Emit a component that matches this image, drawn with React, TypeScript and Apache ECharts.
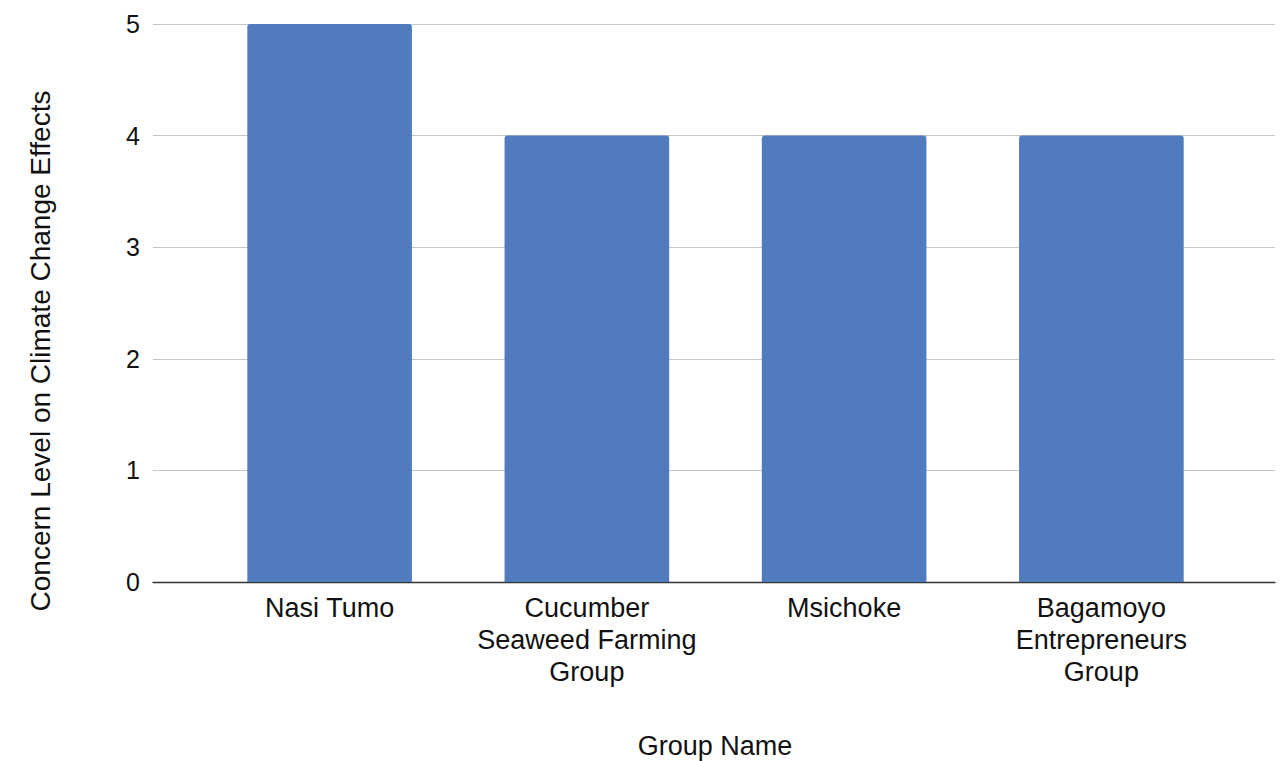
import React, { useEffect, useRef } from "react";
import * as echarts from "echarts";

const categories = [
  "Nasi Tumo",
  "Cucumber\nSeaweed Farming\nGroup",
  "Msichoke",
  "Bagamoyo\nEntrepreneurs\nGroup",
];
const concernValues = [5, 4, 4, 4];
const yTicks = [0, 1, 2, 3, 4, 5];
const xTitle = "Group Name";
const yTitle = "Concern Level on Climate Change Effects";

const FONT = "'Liberation Sans', Arial, Helvetica, sans-serif";

export default function App() {
  const ref = useRef<HTMLDivElement>(null);
  useEffect(() => {
    if (!ref.current) return;
    const chart = echarts.init(ref.current, null, { renderer: "svg" });
    const yMin = yTicks[0];
    const yMax = yTicks[yTicks.length - 1];
    chart.setOption({
      animation: false,
      backgroundColor: "#ffffff",
      grid: [
        { left: 153, right: 12, top: 24, bottom: 179 },
        { left: 201, right: 57, top: 24, bottom: 179 },
      ],
      xAxis: [
        {
          type: "category",
          gridIndex: 0,
          data: categories,
          axisLine: { show: true, lineStyle: { color: "#333333", width: 1.3 } },
          axisTick: { show: false },
          axisLabel: { show: false },
          splitLine: { show: false },
        },
        {
          type: "category",
          gridIndex: 1,
          data: categories,
          axisLine: { show: false },
          axisTick: { show: false },
          axisLabel: {
            show: true,
            interval: 0,
            margin: 10,
            color: "#111111",
            fontFamily: FONT,
            fontSize: 27,
            lineHeight: 32,
            align: "center",
          },
        },
      ],
      yAxis: [
        {
          type: "value",
          gridIndex: 0,
          min: yMin,
          max: yMax,
          interval: 1,
          axisLine: { show: false },
          axisTick: { show: false },
          axisLabel: {
            margin: 13,
            color: "#111111",
            fontFamily: FONT,
            fontSize: 25,
          },
          splitLine: { show: true, lineStyle: { color: "#c6c6c6", width: 1 } },
        },
        {
          type: "value",
          gridIndex: 1,
          min: yMin,
          max: yMax,
          interval: 1,
          axisLine: { show: false },
          axisTick: { show: false },
          axisLabel: { show: false },
          splitLine: { show: false },
        },
      ],
      series: [
        {
          type: "bar",
          xAxisIndex: 1,
          yAxisIndex: 1,
          data: concernValues,
          barCategoryGap: "36%",
          itemStyle: { color: "#517bbf", borderRadius: [3, 3, 0, 0] },
          z: 3,
        },
      ],
      graphic: [
        {
          type: "text",
          x: 715,
          y: 746,
          style: {
            text: xTitle,
            fontFamily: FONT,
            fontSize: 27,
            fill: "#111111",
            align: "center",
            verticalAlign: "middle",
          },
        },
        {
          type: "text",
          x: 40,
          y: 351,
          rotation: Math.PI / 2,
          style: {
            text: yTitle,
            fontFamily: FONT,
            fontSize: 28,
            fill: "#111111",
            align: "center",
            verticalAlign: "middle",
          },
        },
      ],
    });
    return () => chart.dispose();
  }, []);
  return (
    <div
      ref={ref}
      style={{ position: "fixed", left: 0, top: 0, width: 1287, height: 761 }}
    />
  );
}
